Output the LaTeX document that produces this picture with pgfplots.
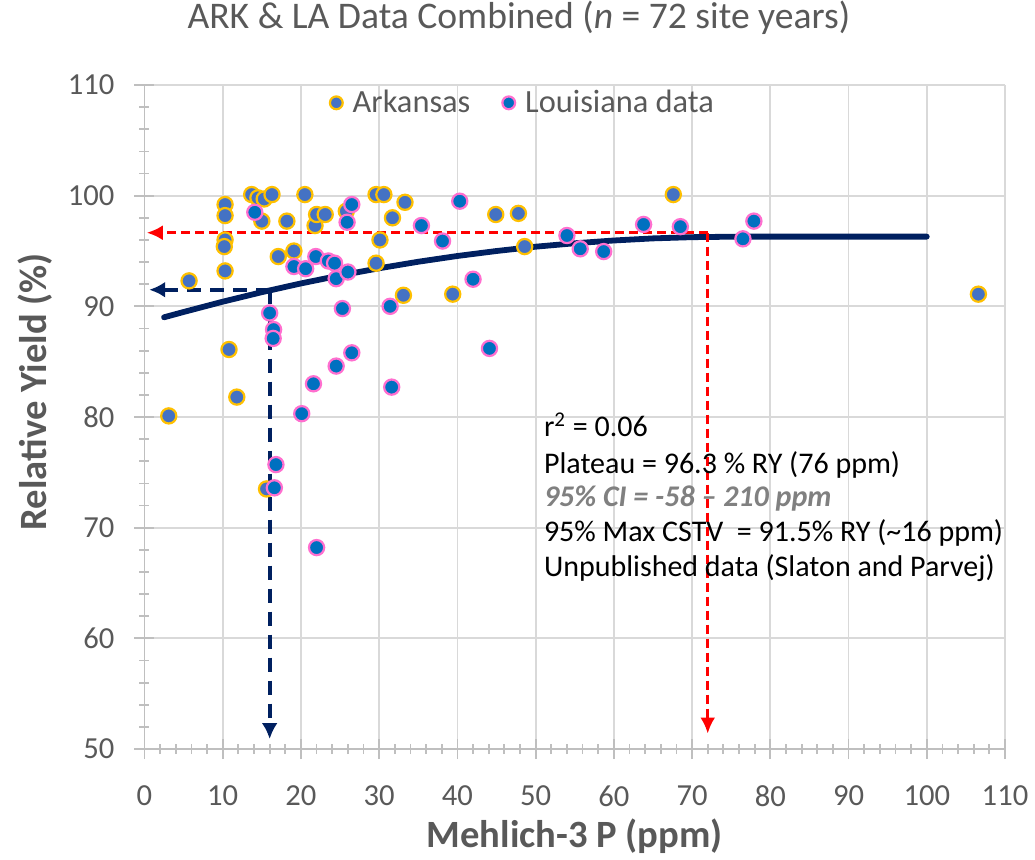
\documentclass[border=0pt]{standalone}
\usepackage{pgfplots}
\pgfplotsset{compat=1.18}
\usepackage{fontspec}
\setmainfont{Carlito}
\usetikzlibrary{arrows.meta}
\definecolor{arkfill}{HTML}{4472C4}
\definecolor{arkedge}{HTML}{FFC000}
\definecolor{lafill}{HTML}{0070C0}
\definecolor{laedge}{HTML}{FF6FCF}
\definecolor{navy}{HTML}{002060}
\definecolor{txtgray}{HTML}{595959}
\definecolor{gridgray}{HTML}{D9D9D9}
\definecolor{axgray}{HTML}{BFBFBF}
\definecolor{cigray}{HTML}{808080}
\begin{document}
\begin{tikzpicture}
\useasboundingbox (-72.25pt,-55pt) rectangle (445.25pt,374.5pt);
\begin{axis}[
 at={(0,0)}, anchor=south west,
 scale only axis, width=430.25pt, height=332pt,
 xmin=0, xmax=110, ymin=50, ymax=110,
 xtick={0,10,...,110}, ytick={50,60,...,110},
 minor x tick num=4, minor y tick num=4,
 axis lines=left,
 axis line style={-, axgray, line width=0.9pt},
 grid=major, major grid style={gridgray, line width=0.9pt},
 tick style={axgray, line width=0.9pt},
 tick align=center, major tick length=10pt, minor tick length=5pt,
 ticklabel style={font=\fontsize{15.3}{18}\selectfont, text=txtgray},
 /pgf/number format/assume math mode=true,
 xticklabel shift=10pt, yticklabel shift=6.5pt,
 xlabel={Mehlich-3 P (ppm)}, ylabel={Relative Yield (\%)},
 label style={font=\bfseries\fontsize{19.3}{22}\selectfont, text=txtgray},
 xlabel style={at={(axis description cs:0.5,-0.131)}, anchor=center},
 ylabel style={at={(axis description cs:-0.127,0.538)}, anchor=center},
 title={ARK \& LA Data Combined (\textit{n} = 72 site years)},
 title style={at={(axis description cs:0.435,1.083)}, anchor=center, font=\fontsize{18.8}{22}\selectfont, text=txtgray},
 legend style={at={(axis description cs:0.441,1.005)}, anchor=north, draw=none, fill=none, legend columns=2, font=\fontsize{16.2}{19}\selectfont, text=txtgray,
   /tikz/every odd column/.append style={column sep=3pt},
   /tikz/every even column/.append style={column sep=14pt}},
 legend cell align=left,
 legend image code/.code={\draw[#1,mark size=3.2pt] plot coordinates {(0pt,0pt)};},
 clip=false,
]
% fitted quadratic-plateau line
\addplot[navy, line width=2.9pt, line cap=round, forget plot] coordinates {
(2.5,89.01) (5,89.49) (10,90.42) (15,91.28) (20,92.07) (25,92.79) (30,93.44) (35,94.03)
(40,94.55) (45,95.00) (50,95.39) (55,95.70) (60,95.95) (65,96.14) (70,96.25) (76,96.30) (100,96.30)};
% Arkansas
\addplot[only marks, mark=*, mark size=3.8pt, mark options={fill=arkfill, draw=arkedge, line width=1.1pt}] coordinates {
(3.1,80.1) (5.7,92.3) (10.3,99.2) (10.3,98.2) (10.3,96.0) (10.2,95.4) (10.3,93.2) (10.8,86.1)
(11.8,81.8) (13.7,100.1) (14.5,99.8) (15.3,99.7) (16.3,100.1) (15.0,97.7) (15.6,73.5) (17.1,94.5)
(18.2,97.7) (19.1,95.0) (20.5,100.1) (21.8,97.3) (22.0,98.3) (23.1,98.3) (25.8,98.6) (29.6,100.1)
(30.6,100.1) (29.6,93.9) (30.1,96.0) (31.7,98.0) (33.3,99.4) (33.1,91.0) (39.4,91.1) (44.9,98.3)
(47.8,98.4) (48.6,95.4) (67.6,100.1) (106.6,91.1)};
\addlegendentry{Arkansas}
% annotation arrows
\addplot[red, line width=1.4pt, dash pattern=on 4.5pt off 2.5pt, -{Latex[length=8pt,width=7.5pt]}, forget plot] coordinates {(72,96.65) (0.3,96.65)};
\addplot[red, line width=1.4pt, dash pattern=on 4.5pt off 2.5pt, -{Latex[length=8pt,width=7.5pt]}, forget plot] coordinates {(72,96.65) (72,51.4)};
\addplot[navy, line width=2pt, dash pattern=on 7pt off 4.5pt, -{Latex[length=8pt,width=8pt]}, forget plot] coordinates {(16,91.5) (0.6,91.5)};
\addplot[navy, line width=2pt, dash pattern=on 7pt off 4.5pt, -{Latex[length=8pt,width=8pt]}, forget plot] coordinates {(16,91.5) (16,50.9)};
% Louisiana
\addplot[only marks, mark=*, mark size=3.8pt, mark options={fill=lafill, draw=laedge, line width=1.1pt}] coordinates {
(14.1,98.5) (16.0,89.4) (16.5,87.9) (16.45,87.1) (16.8,75.7) (16.6,73.6) (19.1,93.6) (20.6,93.4)
(20.1,80.3) (21.9,94.5) (21.6,83.0) (22.0,68.2) (23.5,94.1) (24.3,93.9) (24.5,92.5) (24.5,84.6)
(25.3,89.8) (26.0,93.1) (26.5,99.2) (25.9,97.6) (26.5,85.8) (31.4,90.0) (31.6,82.7) (35.4,97.3)
(38.1,95.9) (40.3,99.5) (42.0,92.45) (44.1,86.2) (54.0,96.4) (55.7,95.2) (58.7,94.95) (63.8,97.4)
(68.5,97.2) (76.5,96.1) (77.9,97.7)};
\addlegendentry{Louisiana data}
% text
\node[anchor=base west, font=\fontsize{15}{18}\selectfont] at (axis cs:50.17,78.2) {r\textsuperscript{2} = 0.06};
\node[anchor=base west, font=\fontsize{15}{18}\selectfont] at (axis cs:50.17,74.92) {Plateau = 96.3 \% RY (76 ppm)};
\node[anchor=base west, font=\bfseries\itshape\fontsize{15}{18}\selectfont, text=cigray] at (axis cs:50.17,71.9) {95\% CI = -58 -- 210 ppm};
\node[anchor=base west, font=\fontsize{15}{18}\selectfont] at (axis cs:50.17,68.74) {95\% Max CSTV\ \ = 91.5\% RY (\textasciitilde16 ppm)};
\node[anchor=base west, font=\fontsize{15}{18}\selectfont] at (axis cs:50.17,65.58) {Unpublished data (Slaton and Parvej)};
\end{axis}
\end{tikzpicture}
\end{document}
